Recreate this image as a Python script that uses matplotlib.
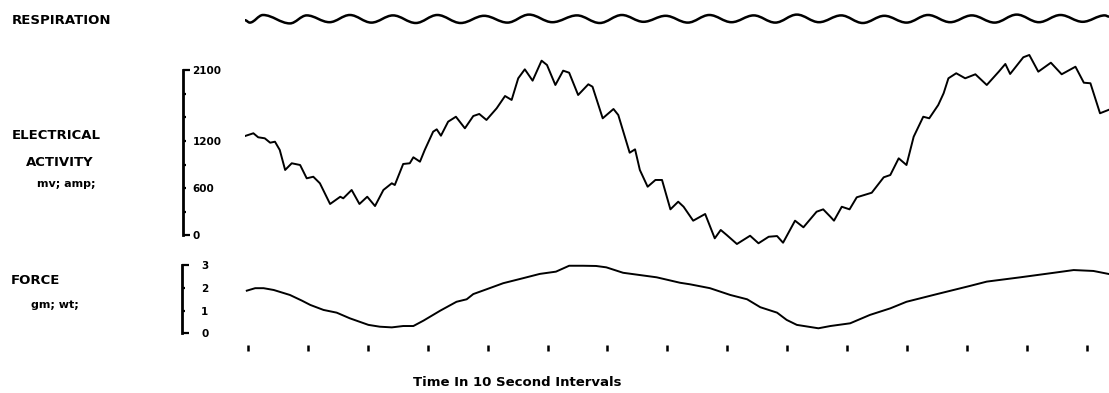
import matplotlib
matplotlib.use('Agg')
import matplotlib.pyplot as plt
from matplotlib.path import Path
from matplotlib.patches import PathPatch

# respiration trace (arbitrary units), alternating troughs / peaks, time in s
resp_t = [-0.5, 0.3, 2.5, 7.0, 9.8, 13.6, 17.0, 20.6, 24.2, 28.0,
          31.6, 35.5, 39.4, 43.3, 46.9, 50.8, 54.9, 58.7, 62.4, 66.0,
          69.7, 73.4, 77.0, 80.7, 84.4, 88.0, 91.6, 95.3, 99.0, 102.6,
          106.2, 109.9, 113.5, 117.2, 120.8, 124.6, 128.3, 132.0, 135.6, 139.3,
          143.0, 143.7]
resp_v = [-0.3, -0.9, 1.0, -1.1, 0.9, -0.8, 1.0, -0.9, 0.9, -1.0,
          1.0, -1.0, 0.8, -0.9, 1.1, -0.8, 0.9, -1.0, 1.0, -0.7,
          0.8, -0.9, 1.0, -0.8, 0.9, -0.9, 1.1, -0.8, 0.9, -1.0,
          0.8, -0.9, 1.0, -0.8, 0.9, -0.9, 1.1, -0.8, 1.0, -0.7,
          0.9, 0.6]

# electrical activity, mv
elec_t = [-0.5, 0.9, 1.7, 2.8, 3.7, 4.5, 5.3, 6.2, 7.3, 8.7,
          9.8, 10.9, 12.0, 13.7, 15.4, 15.9, 17.3, 18.6, 19.9, 21.2,
          22.6, 24.0, 24.5, 25.9, 27.0, 27.6, 28.7, 29.5, 30.9, 31.5,
          32.2, 33.4, 34.7, 36.2, 37.6, 38.6, 39.8, 41.5, 42.9, 44.0,
          45.1, 46.2, 47.5, 49.0, 49.9, 51.3, 52.6, 53.6, 55.1, 56.8,
          57.5, 59.2, 61.0, 61.8, 63.7, 64.6, 65.4, 66.7, 68.0, 69.1,
          70.5, 71.8, 72.7, 74.3, 76.3, 77.9, 78.9, 79.9, 81.6, 83.8,
          85.2, 86.9, 88.3, 89.3, 91.3, 92.7, 94.9, 96.0, 97.2, 97.8,
          99.1, 100.4, 101.6, 104.1, 106.1, 107.2, 108.6, 109.9, 111.1, 112.7,
          113.7, 115.2, 116.1, 116.9, 118.2, 119.7, 121.4, 123.3, 125.3, 126.4,
          127.2, 129.4, 130.4, 131.9, 134.0, 135.8, 138.1, 139.5, 140.6, 142.2,
          143.6]
elec_mv = [1262, 1297, 1246, 1233, 1177, 1190, 1085, 831, 916, 894,
           725, 745, 662, 399, 491, 471, 577, 399, 491, 373,
           577, 662, 640, 907, 916, 992, 936, 1085, 1317, 1347,
           1266, 1444, 1507, 1360, 1516, 1542, 1466, 1614, 1770, 1720,
           1995, 2109, 1965, 2219, 2164, 1910, 2092, 2066, 1783, 1919,
           1888, 1487, 1605, 1529, 1050, 1093, 831, 618, 704, 704,
           331, 428, 364, 187, 272, -37, 69, 5, -109, -4,
           -100, -17, -8, -93, 187, 103, 301, 331, 237, 187,
           364, 331, 484, 542, 738, 767, 979, 894, 1253, 1507,
           1487, 1656, 1805, 1995, 2059, 1995, 2046, 1910, 2079, 2177,
           2050, 2262, 2291, 2079, 2193, 2046, 2142, 1939, 1932, 1551,
           1593]

# force, gm wt
force_t = [-0.2, 1.2, 2.6, 4.3, 7.0, 9.0, 10.4, 12.6, 14.8, 17.0,
           20.1, 22.0, 24.0, 25.9, 27.6, 29.3, 32.1, 34.8, 36.5, 37.6,
           39.8, 42.6, 45.9, 48.7, 51.4, 53.6, 55.9, 58.1, 59.8, 62.6,
           65.4, 68.2, 72.1, 73.8, 77.1, 80.5, 83.3, 85.5, 88.3, 89.9,
           91.6, 95.2, 97.2, 100.5, 103.8, 107.2, 109.9, 115.0, 120.5, 123.3,
           128.9, 134.5, 137.8, 141.1, 143.6]
force_g = [1.88, 1.99, 1.99, 1.91, 1.69, 1.44, 1.25, 1.03, 0.91, 0.66,
           0.37, 0.29, 0.26, 0.32, 0.32, 0.56, 1.00, 1.39, 1.50, 1.73,
           1.94, 2.21, 2.43, 2.62, 2.72, 2.98, 2.98, 2.97, 2.91, 2.67,
           2.57, 2.47, 2.23, 2.16, 1.99, 1.69, 1.50, 1.15, 0.91, 0.59,
           0.37, 0.22, 0.32, 0.44, 0.81, 1.10, 1.39, 1.73, 2.09, 2.28,
           2.47, 2.67, 2.79, 2.75, 2.62]

time_ticks = list(range(0, 141, 10))
elec_end_ticks = [0, 2100]
elec_end_labels = ['0', '2100']
elec_mid_ticks = [300, 600, 900, 1200, 1500, 1800]
elec_mid_labels = ['', '600', '', '1200', '', '']
force_end_ticks = [0, 3]
force_end_labels = ['0', '3']
force_mid_ticks = [1, 2]
force_mid_labels = ['1', '2']

W, H = 1109, 393
XL = (-0.5, 143.7)


def box(x0, y0, x1, y1):
    # pixel box (top-left origin) -> figure fraction
    return [x0 / W, 1 - y1 / H, (x1 - x0) / W, (y1 - y0) / H]


def bare(ax):
    ax.set_facecolor('none')
    for s in ax.spines.values():
        s.set_visible(False)
    ax.set_xticks([])
    ax.set_yticks([])


def scale_bar(ax, ylim, top, ends, end_lbl, mids, mid_lbl, end_len, pad):
    bare(ax)
    ax.set_ylim(*ylim)
    ax.spines['left'].set_visible(True)
    ax.spines['left'].set_linewidth(2)
    ax.spines['left'].set_bounds(0, top)
    ax.set_yticks(ends)
    ax.set_yticklabels(end_lbl, fontsize=7.5, **bold)
    ax.set_yticks(mids, minor=True)
    ax.set_yticklabels(mid_lbl, minor=True, fontsize=7.5, **bold)
    ax.tick_params(axis='y', which='both', direction='in', width=1.6,
                   left=True, right=False, labelleft=False, labelright=True)
    ax.tick_params(axis='y', which='major', length=end_len, pad=pad)
    ax.tick_params(axis='y', which='minor', length=2.5, pad=pad)


fig = plt.figure(figsize=(W / 100, H / 100), dpi=100)
bold = dict(fontweight='bold', family='DejaVu Sans', color='black')

# respiration
ax_r = fig.add_axes(box(245, 5, 1109, 33))
bare(ax_r)
ax_r.set_xlim(*XL)
ax_r.set_ylim(-3.5, 3.5)
verts = [(resp_t[0], resp_v[0])]
codes = [Path.MOVETO]
for i in range(1, len(resp_t)):
    t0, v0 = resp_t[i - 1], resp_v[i - 1]
    t1, v1 = resp_t[i], resp_v[i]
    d = (t1 - t0) * 0.36
    verts += [(t0 + d, v0), (t1 - d, v1), (t1, v1)]
    codes += [Path.CURVE4] * 3
ax_r.add_patch(PathPatch(Path(verts, codes), fill=False, lw=1.8,
                         edgecolor='black', capstyle='round'))

# electrical activity
ylim_e = (-250, 2400)
ax_e = fig.add_axes(box(245, 46.4, 1109, 255.1))
bare(ax_e)
ax_e.set_xlim(*XL)
ax_e.set_ylim(*ylim_e)
ax_e.plot(elec_t, elec_mv, color='black', lw=1.4, solid_joinstyle='round')

sc_e = fig.add_axes(box(183, 46.4, 184, 255.1))
scale_bar(sc_e, ylim_e, 2100, elec_end_ticks, elec_end_labels,
          elec_mid_ticks, elec_mid_labels, 5, 6)

# force
ylim_f = (-0.2, 3.3)
ax_f = fig.add_axes(box(245, 258.5, 1109, 337.8))
bare(ax_f)
ax_f.set_xlim(*XL)
ax_f.set_ylim(*ylim_f)
ax_f.plot(force_t, force_g, color='black', lw=1.4, solid_joinstyle='round')

sc_f = fig.add_axes(box(182, 258.5, 183, 337.8))
scale_bar(sc_f, ylim_f, 3, force_end_ticks, force_end_labels,
          force_mid_ticks, force_mid_labels, 5, 13)

# time marks
ax_t = fig.add_axes(box(245, 330, 1109, 351))
bare(ax_t)
ax_t.set_xlim(*XL)
ax_t.set_xticks(time_ticks)
ax_t.tick_params(axis='x', direction='in', length=4.5, width=1.8,
                 labelbottom=False)
ax_t.set_xlabel('Time In 10 Second Intervals', fontsize=9.5, **bold)
ax_t.xaxis.label.set_va('center')
ax_t.xaxis.set_label_coords((517 - 245) / 864, -(382 - 351) / 21)


# left hand labels
def label(x, y, s, size):
    fig.text(x / W, 1 - y / H, s, ha='left', va='center', fontsize=size, **bold)


label(12, 20, 'RESPIRATION', 9.5)
label(12, 135.5, 'ELECTRICAL', 9.5)
label(26, 163, 'ACTIVITY', 9.5)
label(37, 184, 'mv; amp;', 8)
label(11, 281, 'FORCE', 9.5)
label(31, 305, 'gm; wt;', 8)

fig.savefig('out.png', dpi=100)
